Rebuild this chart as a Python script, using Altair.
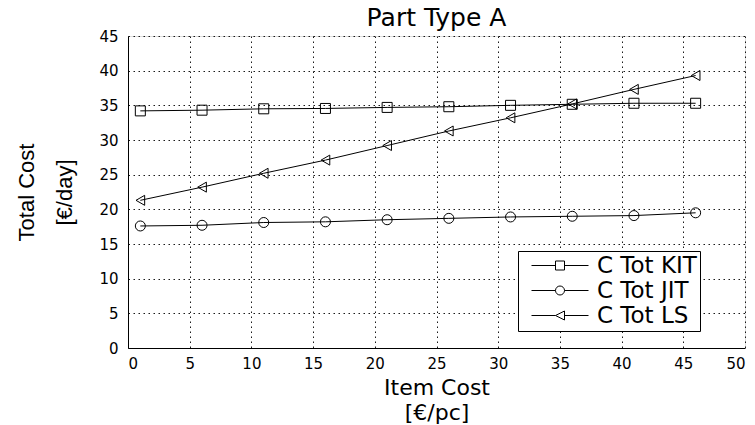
import altair as alt
import pandas as pd

item_cost = [1, 6, 11, 16, 21, 26, 31, 36, 41, 46]
c_tot_kit = [34.2, 34.3, 34.5, 34.55, 34.7, 34.8, 35.0, 35.15, 35.3, 35.3]
c_tot_jit = [17.6, 17.7, 18.1, 18.2, 18.5, 18.7, 18.9, 19.0, 19.1, 19.5]
c_tot_ls = [21.3, 23.2, 25.2, 27.1, 29.2, 31.3, 33.2, 35.2, 37.3, 39.3]
series_names = ["C Tot KIT", "C Tot JIT", "C Tot LS"]
x_ticks = [0, 5, 10, 15, 20, 25, 30, 35, 40, 45, 50]
y_ticks = [0, 5, 10, 15, 20, 25, 30, 35, 40, 45]

rows = []
for name, vals in zip(series_names, [c_tot_kit, c_tot_jit, c_tot_ls]):
    for xv, yv in zip(item_cost, vals):
        rows.append({"x": xv, "y": yv, "series": name})
df = pd.DataFrame(rows)

FONT = "DejaVu Sans"

x_enc = alt.X(
    "x:Q",
    scale=alt.Scale(domain=[0, 50], nice=False),
    axis=alt.Axis(
        values=x_ticks,
        title=["Item Cost", "[€/pc]"],
        titleFont=FONT, titleFontSize=22, titleFontWeight="normal",
        titleColor="black", titleLineHeight=25,
        titleBaseline="alphabetic", titleY=46,
        labelFont=FONT, labelFontSize=15, labelColor="black", labelPadding=8,
        labelOverlap=False,
        ticks=False, domainColor="black", domainWidth=1,
        grid=True, gridColor="black", gridDash=[1.5, 3.5], gridWidth=1, gridOpacity=0.9,
    ),
)
y_enc = alt.Y(
    "y:Q",
    scale=alt.Scale(domain=[0, 45], nice=False),
    axis=alt.Axis(
        values=y_ticks,
        title=["Total Cost", "[€/day]"],
        titleFont="Liberation Sans", titleFontSize=22, titleFontWeight="normal",
        titleColor="black", titleAngle=-90, titleLineHeight=38,
        titleBaseline="middle", titleAlign="center", titleX=-102, titleY=156,
        labelFont=FONT, labelFontSize=15, labelColor="black", labelPadding=10,
        labelOverlap=False,
        ticks=False, domainColor="black", domainWidth=1,
        grid=True, gridColor="black", gridDash=[1.5, 3.5], gridWidth=1, gridOpacity=0.9,
    ),
)

lines = alt.Chart(df).mark_line(color="black", strokeWidth=1).encode(
    x=x_enc, y=y_enc, detail="series:N"
)

points = alt.Chart(df).mark_point(
    filled=False, color="black", strokeWidth=1, size=100, opacity=1
).encode(
    x=x_enc,
    y=y_enc,
    shape=alt.Shape(
        "series:N",
        scale=alt.Scale(domain=series_names, range=["square", "circle", "triangle-left"]),
        legend=None,
    ),
)

legend_paths = [
    "M-0.1,0H2.3M3.2,0H5.6M2.3,-0.45H3.2V0.45H2.3Z",
    "M-0.1,0H2.3M3.2,0H5.6M2.3,0A0.45,0.45 0 1,0 3.2,0A0.45,0.45 0 1,0 2.3,0",
    "M-0.1,0H2.3M3.2,0H5.6M2.3,0L3.2,-0.45L3.2,0.45Z",
]

legend_layer = alt.Chart(df).mark_point(
    filled=False, color="black", strokeWidth=1, opacity=0
).encode(
    x=x_enc,
    y=y_enc,
    shape=alt.Shape(
        "series:N",
        scale=alt.Scale(domain=series_names, range=legend_paths),
        legend=alt.Legend(
            title=None,
            orient="none",
            legendX=390,
            legendY=215,
            fillColor="white",
            strokeColor="black",
            padding=3,
            symbolSize=400,
            symbolStrokeColor="black",
            symbolFillColor="transparent",
            symbolStrokeWidth=1,
            symbolOpacity=1,
            labelFont=FONT,
            labelFontSize=23,
            labelColor="black",
            labelOffset=53,
            rowPadding=1,
        ),
    ),
)

chart = (
    alt.layer(lines, points, legend_layer)
    .resolve_scale(shape="independent")
    .properties(
        width=617,
        height=312,
        autosize=alt.AutoSizeParams(type="none"),
        padding={"left": 128, "top": 36, "right": 10, "bottom": 77},
        title=alt.TitleParams(
            "Part Type A", font=FONT, fontSize=25, fontWeight="normal",
            color="black", anchor="middle", frame="group", offset=0, dy=2,
        ),
    )
    .configure_view(stroke="black", strokeWidth=1)
    .configure(background="white")
)

chart.save("out.html", embed_options={"renderer": "svg", "actions": False})
